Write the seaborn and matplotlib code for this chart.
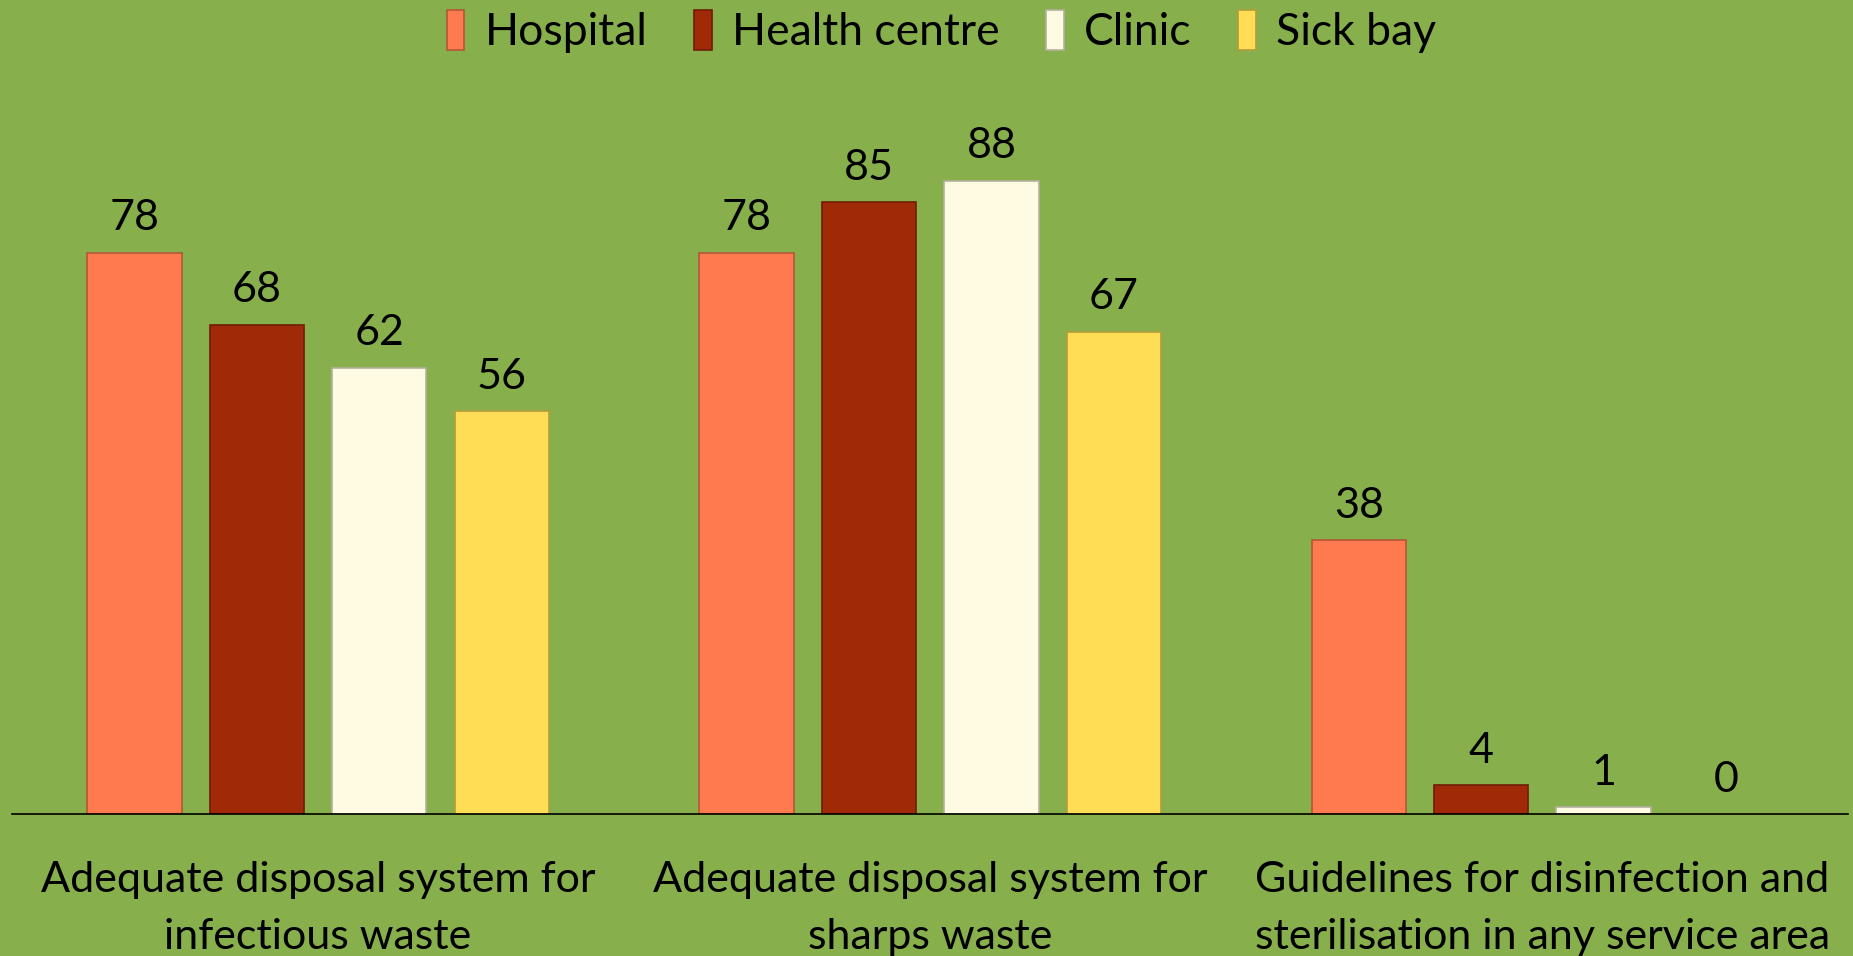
import pandas as pd
import matplotlib.pyplot as plt
import matplotlib.colors as mcolors
import seaborn as sns

# chart data
categories = ['Adequate disposal system for\ninfectious waste',
              'Adequate disposal system for\nsharps waste',
              'Guidelines for disinfection and\nsterilisation in any service area']
facility_types = ['Hospital', 'Health centre', 'Clinic', 'Sick bay']
hospital = [78, 78, 38]
health_centre = [68, 85, 4]
clinic = [62, 88, 1]
sick_bay = [56, 67, 0]

palette = {'Hospital': '#FF7B4F', 'Health centre': '#A02A07',
           'Clinic': '#FFFBE2', 'Sick bay': '#FFDD55'}
bg = '#87B04D'

rows = []
for ftype, vals in zip(facility_types, [hospital, health_centre, clinic, sick_bay]):
    for cat, v in zip(categories, vals):
        rows.append({'category': cat, 'facility': ftype, 'value': v})
df = pd.DataFrame(rows)

sns.set_theme(style='white')
plt.rcParams['font.family'] = ['Lato', 'DejaVu Sans']
plt.rcParams['text.color'] = 'black'
plt.rcParams['xtick.color'] = 'black'

fig = plt.figure(figsize=(18.53, 9.56), dpi=100, facecolor=bg)
ax = fig.add_axes([0.0065, 0.1485, 0.991, 0.753])
ax.set_facecolor(bg)

sns.barplot(data=df, x='category', y='value', hue='facility',
            hue_order=facility_types, palette=palette, saturation=1,
            width=0.8, gap=0.23, linewidth=1.2, ax=ax)

# darker outline on each bar, a bit like the bevel in the original
for cont, ftype in zip(ax.containers, facility_types):
    dark = [c * 0.7 for c in mcolors.to_rgb(palette[ftype])]
    for bar in cont:
        bar.set_edgecolor(dark)
    ax.bar_label(cont, fmt='%d', padding=11, fontsize=31, color='black')

ax.set_ylim(0, 100)
ax.set_xlim(-0.5, 2.5)
ax.set_xlabel('')
ax.set_ylabel('')
ax.set_yticks([])
ax.tick_params(axis='x', length=0, pad=34, labelsize=31, labelcolor='black')
for lbl in ax.get_xticklabels():
    lbl.set_linespacing(1.6)
for side in ['top', 'right', 'left']:
    ax.spines[side].set_visible(False)
ax.spines['bottom'].set_color('black')
ax.spines['bottom'].set_linewidth(1.2)

leg = ax.legend(loc='upper center', bbox_to_anchor=(0.508, 1.013), bbox_transform=fig.transFigure,
                ncol=4, frameon=False, fontsize=32, handlelength=0.4, handleheight=1.0,
                handletextpad=0.45, columnspacing=1.05, borderaxespad=0.1)
for h, ftype in zip(leg.legend_handles, facility_types):
    h.set_edgecolor([c * 0.7 for c in mcolors.to_rgb(palette[ftype])])

fig.savefig('out.png', dpi=100, facecolor=bg)
